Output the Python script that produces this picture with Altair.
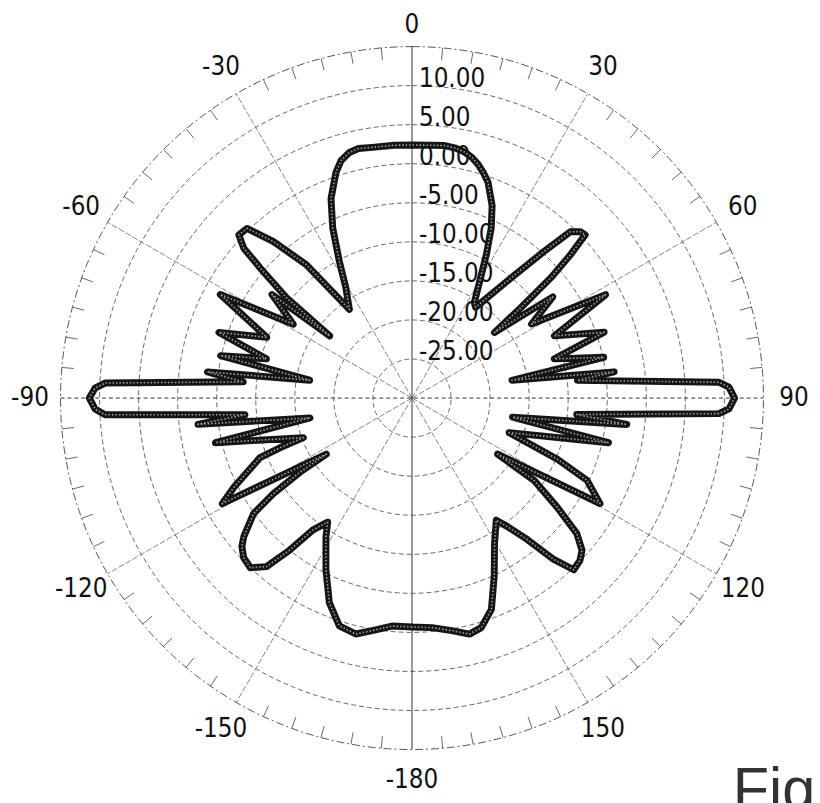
import altair as alt
import pandas as pd

# ---------------- data ----------------
angle_deg = [
    -180, -175, -170.3, -166.6, -162.3, -158, -153.4, -148.2, -145.8, -143.1,
    -141.2, -139.2, -136.4, -133.5, -131.1, -129.5, -126.1, -124.6, -123.5, -123.2,
    -119.1, -116.6, -111.4, -110.6, -110, -102.8, -101, -97, -95.7, -93.1,
    -91.97, -90, -88.2, -87.2, -84.5, -82.7, -80.1, -77.5, -74.9, -71.2,
    -67.3, -61.6, -58.1, -53.5, -52.9, -51.35, -49.4, -48.3, -46.7, -44.2,
    -41.5, -38.4, -35.2, -30.9, -28, -25, -22.1, -18.6, -16.6, -14.3,
    -12.1, -9, -4, 0, 4, 7.4, 9.9, 12.1, 14, 15.8,
    17.5, 19.4, 22.6, 25, 27.4, 30.1, 33.1, 35, 39.5, 42,
    43.6, 45.3, 46.7, 47.9, 49.1, 50.3, 51.5, 54.3, 58.25, 61.9,
    66.4, 71.1, 74.6, 78, 79.9, 82.65, 83.9, 87.05, 88.03, 90,
    91.97, 92.9, 95.7, 97, 100.8, 102.8, 109.6, 112.8, 115.2, 119.3,
    123.2, 124, 126.9, 129.4, 131.8, 134, 136.7, 138.7, 140.8, 143.4,
    145.4, 150.4, 155.2, 159.4, 163.2, 166.3, 170.3, 175, 180,
]
gain_db = [
    -0.7, -0.7, 0.2, 1.05, 0.6, -1.75, -5.4, -9.1, -10.8, -8.9,
    -5.05, -1.5, 0.0, -0.3, -1.1, -2.1, -4.9, -8.4, -12.8, -16.9,
    -2.2, -4.5, -9.1, -12.0, -15.2, -4.2, -16.7, -2.4, -8.5, 9.35,
    10.6, 11.3, 10.6, 9.35, -8.3, -3.6, -16.7, -4.9, -10.7, -3.9,
    -9.85, -2.1, -12.1, -7.7, -16.8, -9.4, -4.4, -1.15, 0.46, 0.3,
    -3.25, -8.2, -16.1, -13.5, -10.2, -6.0, -2.45, 0.5, 1.74, 2.45,
    2.67, 2.5, 2.45, 2.4, 2.45, 2.6, 2.49, 2.2, 1.74, 1.1,
    0.31, -0.7, -3.3, -6.0, -9.3, -12.7, -15.4, -15.8, -10.1, -4.75,
    -0.6, 0.3, 0.46, -2.7, -6.5, -11.9, -16.5, -7.8, -12.0, -1.9,
    -10.1, -4.0, -11.1, -4.9, -17.0, -3.9, -8.7, 9.35, 10.6, 11.3,
    10.6, 9.35, -8.8, -2.3, -16.9, -4.2, -16.8, -9.8, -5.2, -2.4,
    -16.9, -11.1, -6.8, -2.7, -0.8, -0.1, 0.2, -2.5, -6.6, -9.5,
    -11.0, -8.6, -4.9, -1.1, 0.7, 1.1, 0.2, -0.5, -0.7,
]

ring_db = [-25, -20, -15, -10, -5, 0, 5, 10]
ring_text = ["-25.00", "-20.00", "-15.00", "-10.00", "-5.00", "0.00", "5.00", "10.00"]
outer_db = [15]
spoke_deg = [-150, -120, -60, -30, 30, 60, 120, 150]
angle_label_deg = [0, 30, 60, 90, 120, 150, -180, -150, -120, -90, -60, -30]
angle_label_text = ["0", "30", "60", "90", "120", "150", "-180", "-150", "-120", "-90", "-60", "-30"]
caption_text = ["Fig"]

# ---------------- geometry of the frame ----------------
R_CENTER = -30.0     # dB at the pole
R_OUTER = 15.0       # dB at the outer ring
W, H = 812, 795
CX, CY = 408, 390
PX = 355.0 / (R_OUTER - R_CENTER)
XD = [-CX / PX, (W - CX) / PX]
YD = [-(H - CY) / PX, CY / PX]
FONT_N = "DejaVu Sans Condensed, Liberation Sans Narrow, sans-serif"


def X(f="x"):
    return alt.X(f"{f}:Q", scale=alt.Scale(domain=XD, nice=False, zero=False), axis=None)


def Y(f="y"):
    return alt.Y(f"{f}:Q", scale=alt.Scale(domain=YD, nice=False, zero=False), axis=None)


def polar(chart, rexpr, aexpr):
    return chart.transform_calculate(
        x=f"({rexpr}) * sin(({aexpr}) * PI / 180)",
        y=f"({rexpr}) * cos(({aexpr}) * PI / 180)",
    )


RR = R_OUTER - R_CENTER

# rings (grid)
ring_rows = [{"lvl": l, "a": a} for l in ring_db for a in range(0, 361, 2)]
rings = polar(
    alt.Chart(pd.DataFrame(ring_rows)).mark_line(color="#555", strokeWidth=0.9, strokeDash=[5, 3]),
    f"datum.lvl - ({R_CENTER})", "datum.a",
).encode(x=X(), y=Y(), detail="lvl:N", order="a:Q")

outer_rows = [{"lvl": l, "a": a} for l in outer_db for a in range(0, 361, 2)]
outer = polar(
    alt.Chart(pd.DataFrame(outer_rows)).mark_line(color="#555", strokeWidth=1.0, strokeDash=[8, 3, 2, 3]),
    f"datum.lvl - ({R_CENTER})", "datum.a",
).encode(x=X(), y=Y(), detail="lvl:N", order="a:Q")


def radial_rule(df, r0, r1, **style):
    return alt.Chart(df).transform_calculate(
        x0=f"{r0} * sin(datum.a * PI / 180)",
        y0=f"{r0} * cos(datum.a * PI / 180)",
        x1=f"{r1} * sin(datum.a * PI / 180)",
        y1=f"{r1} * cos(datum.a * PI / 180)",
    ).mark_rule(**style).encode(x=X("x0"), y=Y("y0"), x2="x1:Q", y2="y1:Q")


spokes = radial_rule(pd.DataFrame({"a": spoke_deg}), 0, RR,
                     color="#666", strokeWidth=0.8, strokeDash=[6, 2])
ax_v = radial_rule(pd.DataFrame({"a": [0]}), -RR, RR, color="#444", strokeWidth=1.1)
ax_h = radial_rule(pd.DataFrame({"a": [90]}), -RR, RR, color="#333", strokeWidth=1.0, strokeDash=[4, 3])

# minor ticks on the outer ring every 5 degrees
tick_df = pd.DataFrame({"a": [a for a in range(-180, 180, 5) if a % 30 != 0]})
ticks = radial_rule(tick_df, RR - 1.55, RR, color="#555", strokeWidth=0.9)

# radial labels
rl_df = pd.DataFrame({"lvl": ring_db, "t": ring_text})
rlabels = alt.Chart(rl_df).transform_calculate(
    x="0", y=f"datum.lvl - ({R_CENTER})"
).mark_text(font=FONT_N, fontSize=26, align="left", baseline="alphabetic", dx=7, dy=1,
            color="#111").encode(x=X(), y=Y(), text="t:N")

# angle labels
al_df = pd.DataFrame({"a": angle_label_deg, "t": angle_label_text})
alabels = alt.Chart(al_df).transform_calculate(
    lr="datum.a == 0 ? 47.7 : 48.9"
).transform_calculate(
    x="datum.lr * sin(datum.a * PI / 180)",
    y="datum.lr * cos(datum.a * PI / 180)",
).mark_text(font=FONT_N, fontSize=26, align="center", baseline="middle",
            color="#111").encode(x=X(), y=Y(), text="t:N")

# pattern
pat_df = pd.DataFrame({"i": list(range(len(angle_deg))), "a": angle_deg, "g": gain_db})
pat_base = polar(alt.Chart(pat_df), f"datum.g - ({R_CENTER})", "datum.a")
pat_dark = pat_base.mark_line(color="#151515", strokeWidth=7, strokeJoin="round",
                              strokeCap="round").encode(x=X(), y=Y(), order="i:Q")
pat_light = pat_base.mark_line(color="#a0a0a0", strokeWidth=1.6, strokeDash=[1.5, 2],
                               strokeJoin="round").encode(x=X(), y=Y(), order="i:Q")

# cut-off caption at the lower right
cap = alt.Chart(pd.DataFrame({"t": caption_text})).mark_text(
    font="Liberation Sans, Arial, sans-serif", fontSize=60, align="left", baseline="alphabetic",
    color="#333"
).encode(x=alt.value(732), y=alt.value(805), text="t:N")

chart = alt.layer(
    rings, outer, spokes, ax_h, ax_v, ticks, rlabels, alabels, pat_dark, pat_light, cap
).properties(
    width=W, height=H, padding=0, autosize=alt.AutoSizeParams(type="none")
).configure_view(stroke=None)

chart.save("out.html", embed_options={"renderer": "svg", "actions": False})
